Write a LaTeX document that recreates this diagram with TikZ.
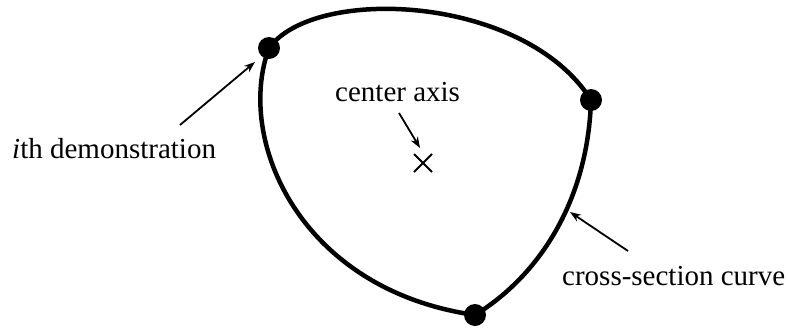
\documentclass[tikz,border=0pt]{standalone}
\usepackage{fontspec}
\setmainfont{Liberation Serif}
\usetikzlibrary{arrows.meta}
\begin{document}
\begin{tikzpicture}[x=1pt,y=-1pt,
  dot/.style={circle,fill=black,inner sep=0pt,minimum size=22pt},
  curveline/.style={line width=4.5pt},
  pointer/.style={line width=1.8pt,-{Stealth[length=11pt,width=8pt]}},
  lbl/.style={inner sep=0pt,font=\fontsize{29}{34}\selectfont}]
\useasboundingbox (0,0) rectangle (788,327);
% curve
\coordinate (p1) at (269,48);
\coordinate (p2) at (591,100);
\coordinate (p3) at (475,315);
\draw[curveline] (p1) .. controls (315,-15) and (525,-5) .. (p2)
  .. controls (588,200) and (540,275) .. (p3)
  .. controls (300,290) and (235,140) .. (p1);
\node[dot] (d1) at (p1) {};
\node[dot] (d2) at (p2) {};
\node[dot] (d3) at (p3) {};
% labels
\node[lbl,anchor=base west] (ith) at (12,158) {\textit{i}th demonstration};
\node[lbl,anchor=base west] (cax) at (335,101) {center axis};
\node[lbl,anchor=base west] (csc) at (562,285) {cross-section curve};
% center marker
\coordinate (ctr) at (423,163);
\draw[line width=1.8pt] (414,154) -- (432,172) (414,172) -- (432,154);
% pointers
\coordinate (t1) at (180,125);
\coordinate (h1) at (255,62);
\coordinate (t2) at (399,113);
\coordinate (h2) at (420,148);
\coordinate (t3) at (628,251);
\coordinate (h3) at (570,212);
\draw[pointer] (t1) -- (h1);
\draw[pointer] (t2) -- (h2);
\draw[pointer] (t3) -- (h3);
\end{tikzpicture}
\end{document}
